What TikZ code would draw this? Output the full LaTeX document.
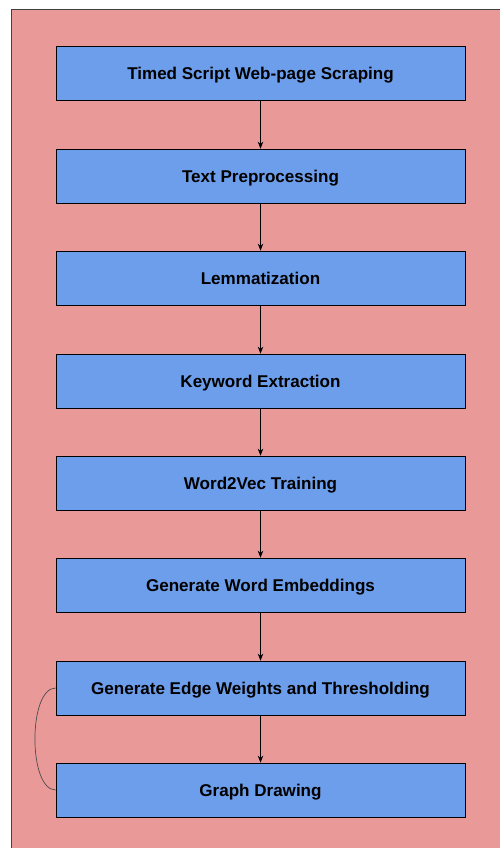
\documentclass[tikz,border=0pt]{standalone}
\usepackage{fontspec}
\setmainfont{Liberation Sans}
\usepackage{xcolor}
\usetikzlibrary{arrows.meta}

\definecolor{sheet}{HTML}{EA9999}
\definecolor{stage}{HTML}{6D9EEB}

\begin{document}
\begin{tikzpicture}[
  box/.style={rectangle, draw, fill=stage, minimum width=8.18cm, minimum height=1.08cm,
    text height=7.6pt, text depth=0pt, font=\fontsize{9.7}{11}\selectfont\bfseries},
  arrow/.style={-{Stealth[length=1.4mm,width=1.1mm]}, thin}
]

\clip (0,0) rectangle (10,-16.96);
\draw[fill=sheet, draw=black!75] (0.22,-0.18) rectangle (10.3,-17.3);

\node[box] (scraping) at (5.21, -1.46) {Timed Script Web-page Scraping};
\node[box] (preproc) at (5.21, -3.52) {Text Preprocessing};
\node[box] (lemma) at (5.21, -5.56) {Lemmatization};
\node[box] (keywords) at (5.21, -7.62) {Keyword Extraction};
\node[box] (w2v) at (5.21, -9.66) {Word2Vec Training};
\node[box] (embed) at (5.21, -11.70) {Generate Word Embeddings};
\node[box] (weights) at (5.21, -13.76) {Generate Edge Weights and Thresholding};
\node[box] (graph) at (5.21, -15.80) {Graph Drawing};

\draw[arrow] (scraping) -- (preproc);
\draw[arrow] (preproc) -- (lemma);
\draw[arrow] (lemma) -- (keywords);
\draw[arrow] (keywords) -- (w2v);
\draw[arrow] (w2v) -- (embed);
\draw[arrow] (embed) -- (weights);
\draw[arrow] (weights) -- (graph);
\draw[black!70] (weights.west) .. controls (0.56,-13.76) and (0.56,-15.80) .. (graph.west);

\end{tikzpicture}
\end{document}
